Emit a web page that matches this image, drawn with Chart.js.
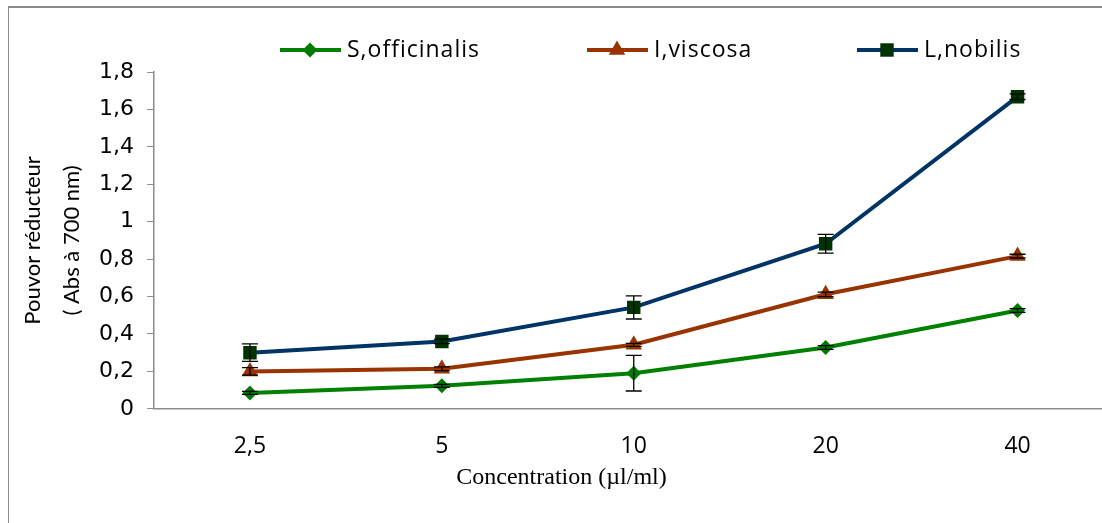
<!DOCTYPE html>
<html>
<head>
<meta charset="utf-8">
<script src="https://cdn.jsdelivr.net/npm/chart.js"></script>
<style>
  body { margin: 0; overflow: hidden; background: #fff; }
  #frame { position: absolute; left: 8px; top: 6px; width: 1200px; height: 600px;
           border-left: 1px solid #8c8c8c; border-top: 2px solid #8c8c8c; }
  #canvas { position: absolute; left: 0; top: 0; }
</style>
</head>
<body>
<div id="frame"></div>
<canvas id="canvas" width="1123" height="523"></canvas>
<script>
var concentrations = ['2,5', '5', '10', '20', '40'];
var seriesNames = ['S,officinalis', 'I,viscosa', 'L,nobilis'];
var officinalis = [0.085, 0.123, 0.19, 0.328, 0.525];
var viscosa = [0.2, 0.214, 0.342, 0.612, 0.816];
var nobilis = [0.3, 0.36, 0.542, 0.882, 1.668];
var errOfficinalis = [0.008, 0.008, 0.095, 0.01, 0.01];
var errViscosa = [0.02, 0.01, 0.008, 0.012, 0.01];
var errNobilis = [0.047, 0.012, 0.062, 0.05, 0.015];
var yTicks = [0, 0.2, 0.4, 0.6, 0.8, 1, 1.2, 1.4, 1.6, 1.8];

var lineColors = ['#008000', '#993300', '#003366'];
var markerColors = ['#007a00', '#993300', '#003300'];
var markerStyles = ['rectRot', 'triangle', 'rect'];
var markerSizes = [7.5, 9.5, 9.5];

// error bars drawn with the y scale
var errorBars = {
  id: 'errorBars',
  afterDatasetsDraw: function(chart) {
    var ctx = chart.ctx;
    var y = chart.scales.y;
    ctx.save();
    ctx.strokeStyle = '#000';
    ctx.lineWidth = 1.3;
    chart.data.datasets.forEach(function(ds, i) {
      var meta = chart.getDatasetMeta(i);
      meta.data.forEach(function(pt, j) {
        var e = ds.errors[j];
        var top = y.getPixelForValue(ds.data[j] + e);
        var bot = y.getPixelForValue(ds.data[j] - e);
        ctx.beginPath();
        ctx.moveTo(pt.x, top); ctx.lineTo(pt.x, bot);
        ctx.moveTo(pt.x - 8, top); ctx.lineTo(pt.x + 8, top);
        ctx.moveTo(pt.x - 8, bot); ctx.lineTo(pt.x + 8, bot);
        ctx.stroke();
      });
    });
    ctx.restore();
  }
};

// legend: line + marker + name, like the office chart
var legendX = [280, 587, 857];
var customLegend = {
  id: 'customLegend',
  afterDraw: function(chart) {
    var ctx = chart.ctx;
    var ly = 50;
    ctx.save();
    chart.data.datasets.forEach(function(ds, i) {
      var x0 = legendX[i];
      ctx.strokeStyle = ds.borderColor;
      ctx.lineWidth = 4;
      ctx.beginPath();
      ctx.moveTo(x0, ly); ctx.lineTo(x0 + 61, ly);
      ctx.stroke();
      ctx.fillStyle = ds.pointBackgroundColor;
      ctx.strokeStyle = ds.pointBackgroundColor;
      Chart.helpers.drawPoint(ctx, {
        pointStyle: ds.pointStyle, radius: ds.pointRadius, borderWidth: 0
      }, x0 + 30, ly);
      ctx.fillStyle = '#000';
      ctx.font = '23px "Open Sans"';
      ctx.letterSpacing = '1px';
      ctx.textBaseline = 'middle';
      ctx.textAlign = 'left';
      ctx.fillText(ds.label, x0 + 67, ly);
    });
    ctx.restore();
  }
};

function makeSet(i, values, errs) {
  return {
    label: seriesNames[i],
    data: values,
    errors: errs,
    borderColor: lineColors[i],
    backgroundColor: lineColors[i],
    borderWidth: 4,
    pointStyle: markerStyles[i],
    pointRadius: markerSizes[i],
    pointBackgroundColor: markerColors[i],
    pointBorderColor: markerColors[i],
    pointBorderWidth: 0,
    tension: 0
  };
}

new Chart(document.getElementById('canvas'), {
  type: 'line',
  data: {
    labels: concentrations,
    datasets: [
      makeSet(0, officinalis, errOfficinalis),
      makeSet(1, viscosa, errViscosa),
      makeSet(2, nobilis, errNobilis)
    ]
  },
  plugins: [errorBars, customLegend],
  options: {
    responsive: false,
    animation: false,
    layout: { padding: { top: 72, left: 0, right: 0, bottom: 0 } },
    plugins: {
      legend: { display: false },
      tooltip: { enabled: false },
      title: {
        display: true, position: 'bottom', text: 'Concentration (µl/ml)', color: '#000',
        font: { family: 'Liberation Serif', size: 24, weight: 'normal', lineHeight: 1.2 },
        padding: { top: 0, bottom: 31 }
      }
    },
    scales: {
      x: {
        offset: true,
        afterFit: function(s) { s.height = 54.4; },
        grid: { display: false, drawTicks: false },
        border: { color: '#8c8c8c', width: 1.5 },
        ticks: { color: '#000', padding: 24, font: { family: 'Open Sans', size: 23 } }
      },
      y: {
        min: 0, max: 1.8,
        afterFit: function(s) { s.width = 154; },
        afterBuildTicks: function(s) { s.ticks = yTicks.map(function(v) { return { value: v }; }); },
        grid: { drawOnChartArea: false, drawTicks: true, tickLength: 7, color: '#8c8c8c' },
        border: { color: '#8c8c8c', width: 1.5 },
        ticks: {
          color: '#000', padding: 13, font: { family: 'DejaVu Sans', size: 22 },
          callback: function(v) { return String(Math.round(v * 10) / 10).replace('.', ','); }
        },
        title: {
          display: true, text: ['Pouvor réducteur', '( Abs à 700 nm)'], color: '#000',
          font: { family: 'Lato', size: 22, lineHeight: 1.8 }, padding: { top: 13, bottom: 0 }
        }
      }
    }
  }
});
</script>
</body>
</html>
